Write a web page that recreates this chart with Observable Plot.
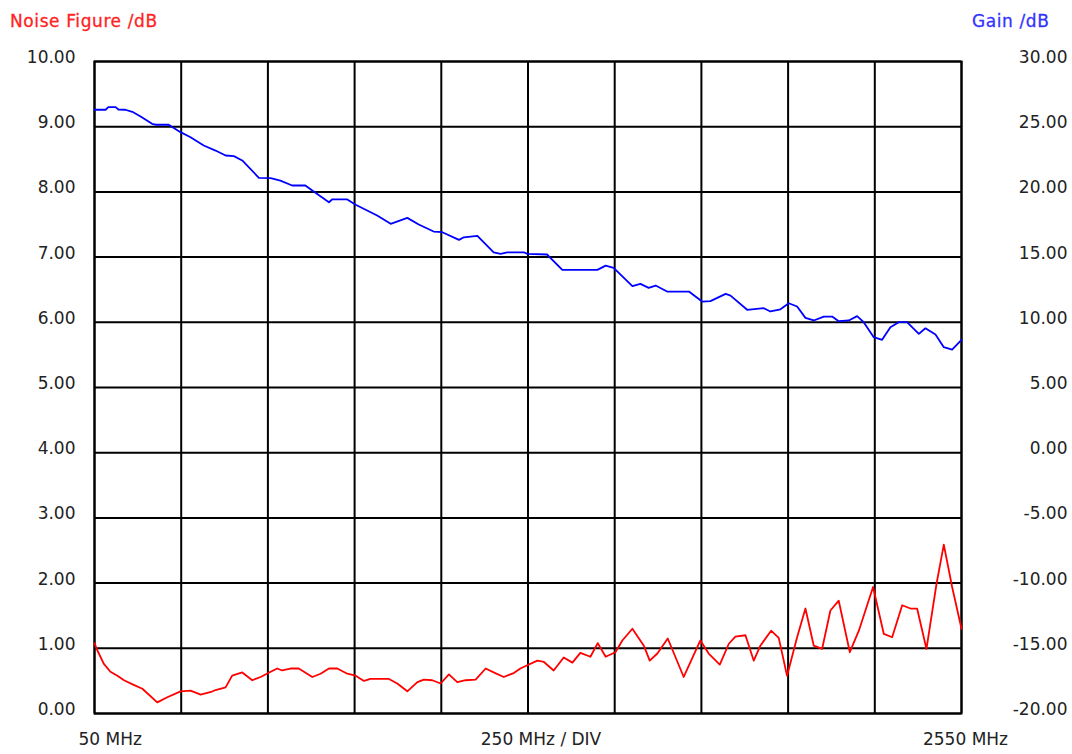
<!DOCTYPE html>
<html><head><meta charset="utf-8">
<script src="https://cdn.jsdelivr.net/npm/d3@7"></script>
<script src="https://cdn.jsdelivr.net/npm/@observablehq/plot@0.6"></script>
<style>
body{margin:0;background:#fff;}
#wrap{position:relative;width:1072px;height:754px;font-family:"DejaVu Sans",sans-serif;}
.t{position:absolute;font-size:17px;letter-spacing:0.6px;line-height:1;white-space:nowrap;-webkit-text-stroke:0.3px currentColor;}
</style></head><body>
<div id="wrap">
<div class="t" style="left:10px;top:13px;color:#ff2222">Noise Figure /dB</div>
<div class="t" style="left:972px;top:13px;color:#3333ff">Gain /dB</div>
</div>
<script>
const gainFreq = [50,82,90,111,119,139,159,183,216,226,264,298,327,365,399,428,452,476,524,558,586,620,658,678,726,735,779,803,865,904,952,985,1028,1053,1101,1115,1154,1201,1221,1240,1288,1298,1355,1399,1500,1524,1547,1601,1624,1648,1668,1701,1764,1802,1826,1870,1884,1932,1980,1999,2028,2052,2076,2100,2124,2153,2177,2196,2225,2249,2268,2297,2321,2345,2369,2393,2427,2446,2475,2499,2523,2550];
const gainDb = [26.30,26.30,26.50,26.50,26.32,26.30,26.14,25.78,25.22,25.15,25.15,24.58,24.19,23.56,23.17,22.79,22.74,22.41,21.08,21.05,20.87,20.49,20.49,20.11,19.21,19.42,19.42,19.01,18.19,17.55,18.01,17.50,16.96,16.91,16.32,16.52,16.63,15.37,15.25,15.37,15.37,15.25,15.20,14.02,14.02,14.35,14.18,12.77,12.95,12.64,12.82,12.36,12.36,11.59,11.62,12.18,12.05,10.96,11.08,10.83,11.00,11.46,11.21,10.34,10.14,10.44,10.44,10.08,10.14,10.47,10.01,8.86,8.66,9.62,10.01,10.01,9.11,9.54,9.06,8.09,7.91,8.66];
const nfFreq = [50,58,77,96,116,135,163,188,231,260,298,327,356,386,399,428,447,476,505,529,558,577,591,615,639,678,702,726,750,779,803,827,846,899,923,952,981,1000,1024,1048,1072,1096,1120,1149,1178,1201,1230,1259,1278,1298,1327,1346,1374,1403,1428,1451,1480,1501,1524,1552,1572,1601,1634,1651,1673,1703,1749,1797,1821,1853,1879,1898,1927,1951,1970,2001,2023,2047,2076,2100,2124,2148,2172,2196,2228,2254,2295,2326,2350,2379,2403,2422,2449,2478,2499,2523,2550];
const nfDb = [1.08,0.97,0.76,0.64,0.58,0.51,0.44,0.38,0.17,0.25,0.34,0.35,0.29,0.33,0.36,0.40,0.58,0.63,0.51,0.56,0.64,0.69,0.66,0.69,0.69,0.56,0.61,0.69,0.69,0.61,0.58,0.50,0.53,0.53,0.46,0.34,0.48,0.52,0.51,0.46,0.60,0.48,0.51,0.52,0.69,0.63,0.56,0.62,0.69,0.74,0.81,0.79,0.66,0.86,0.78,0.93,0.87,1.08,0.87,0.94,1.12,1.30,1.04,0.81,0.92,1.15,0.56,1.12,0.92,0.75,1.07,1.18,1.20,0.81,1.04,1.27,1.16,0.58,1.17,1.61,1.04,0.99,1.58,1.73,0.94,1.27,1.94,1.22,1.17,1.66,1.61,1.61,0.99,1.99,2.59,1.94,1.30];
const nfTicks = [0,1,2,3,4,5,6,7,8,9,10];
const gainTicks = [-20,-15,-10,-5,0,5,10,15,20,25,30];
const xGrid = [50,300,550,800,1050,1300,1550,1800,2050,2300,2550];
const xTicks = [50,1300,2550];
const xTickLabels = ["50 MHz","250 MHz / DIV","2550 MHz"];

const nfRows = nfFreq.map((f,i)=>({f, v:nfDb[i]}));
const gainRows = gainFreq.map((f,i)=>({f, v:gainDb[i]}));
const g2nf = g => (g + 20) / 5;
const nf2g = v => v * 5 - 20;
const textInk = {fill:"#222", stroke:"#222", strokeWidth:0.35};

const xAxis = (i, anchor, dx) => Plot.axisX([xTicks[i]], {anchor:"bottom", tickSize:0, tickPadding:19, label:null,
  tickFormat:()=>xTickLabels[i], textAnchor:anchor, dx, ...textInk, style:{letterSpacing:"0.6px"}});

const chart = Plot.plot({
  width:1072, height:754, marginLeft:94, marginRight:111, marginTop:61, marginBottom:41,
  style:{fontFamily:"DejaVu Sans, sans-serif", fontSize:"17px", color:"#222", background:"transparent"},
  x:{domain:[50,2550], label:null},
  y:{domain:[0,10], label:null},
  marks:[
    Plot.gridX(xGrid, {stroke:"black", strokeOpacity:1, strokeWidth:2}),
    Plot.gridY(nfTicks, {stroke:"black", strokeOpacity:1, strokeWidth:2}),
    Plot.frame({stroke:"black", strokeWidth:2}),
    Plot.line(gainRows, {x:"f", y:d=>g2nf(d.v), stroke:"#0000ff", strokeWidth:1.8}),
    Plot.line(nfRows, {x:"f", y:"v", stroke:"#ff0000", strokeWidth:1.8}),
    Plot.axisY(nfTicks, {anchor:"left", tickSize:0, tickPadding:19, dy:-4, label:null, ...textInk,
      tickFormat:d=>d.toFixed(2)}),
    Plot.axisY(gainTicks.map(g2nf), {anchor:"right", tickSize:0, tickPadding:106, textAnchor:"end", dy:-4, label:null, ...textInk,
      tickFormat:d=>nf2g(d).toFixed(2)}),
    xAxis(0, "start", -16),
    xAxis(1, "middle", 13),
    xAxis(2, "middle", 4)
  ]
});
document.getElementById("wrap").prepend(chart);
</script>
</body></html>
